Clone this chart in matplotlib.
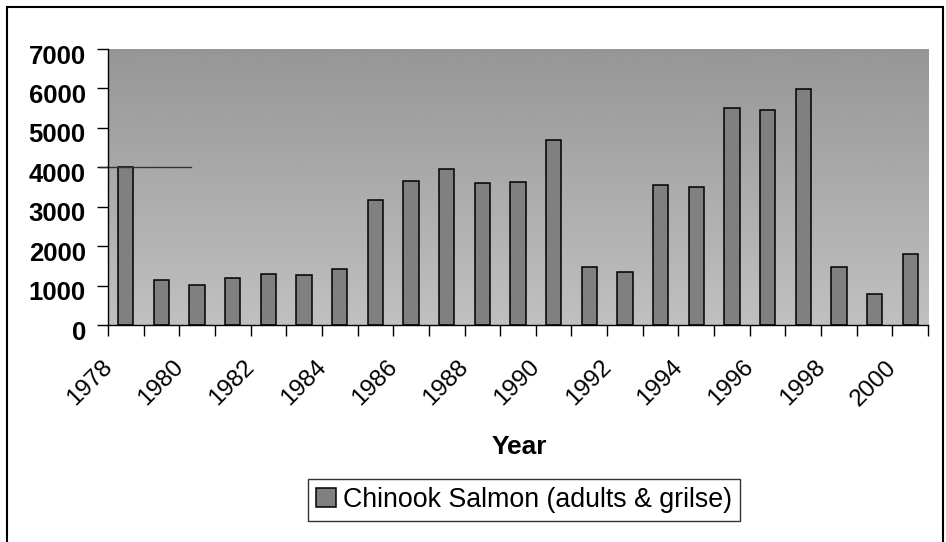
import numpy as np
import matplotlib
matplotlib.use("Agg")
import matplotlib.pyplot as plt
import matplotlib.transforms as mtransforms
from matplotlib.patches import Rectangle

plt.rcParams["font.family"] = ["Liberation Sans", "DejaVu Sans"]

years = list(range(1978, 2001))
salmon = [4000, 1140, 1015, 1180, 1300, 1270, 1430, 3180, 3660, 3950,
          3590, 3630, 4690, 1470, 1345, 3550, 3510, 5500, 5460, 5990,
          1470, 780, 1790]
series_name = "Chinook Salmon (adults & grilse)"
ref_level = 4000
ref_span = [-0.72, 1.83]

fig = plt.figure(figsize=(9.46, 5.42), dpi=100)
ax = fig.add_axes([108 / 946, 1 - 325 / 542, 820 / 946, 276 / 542])

x = np.arange(len(years))

# gradient background, darker at top
grad = np.linspace(150, 192, 256).reshape(-1, 1) / 255.0
ax.imshow(grad, cmap="gray", vmin=0, vmax=1, aspect="auto",
          extent=[-0.5, len(years) - 0.5, 0, 7000], origin="upper", zorder=0)

ax.bar(x, salmon, width=0.43, color="#808080", edgecolor="black",
       linewidth=1.1, zorder=2, label=series_name)
ax.plot(ref_span, [ref_level, ref_level], color="#333333", lw=1,
        clip_on=False, zorder=3)

ax.set_xlim(-0.5, len(years) - 0.5)
ax.set_ylim(0, 7000)

for s in ["top", "right"]:
    ax.spines[s].set_visible(False)
for s in ["left", "bottom"]:
    ax.spines[s].set_linewidth(1)
    ax.spines[s].set_zorder(4)

ax.set_yticks(range(0, 7001, 1000))
ax.tick_params(axis="y", length=8, width=1, pad=8, labelsize=18.5)
for lab in ax.get_yticklabels():
    lab.set_fontweight("bold")
    lab.set_transform(lab.get_transform() +
                      mtransforms.ScaledTranslation(0, -5 / 100, fig.dpi_scale_trans))

ax.set_xticks(np.arange(-0.5, len(years)), labels=[])
ax.set_xticks(x[::2], labels=[str(y) for y in years[::2]], minor=True)
ax.tick_params(axis="x", which="major", length=8, width=1, direction="out")
ax.tick_params(axis="x", which="minor", length=0, pad=28, labelsize=17.5)
for lab in ax.get_xticklabels(minor=True):
    lab.set_rotation(45)
    lab.set_ha("right")
    lab.set_va("center")
    lab.set_rotation_mode("anchor")
    lab.set_transform(lab.get_transform() +
                      mtransforms.ScaledTranslation(-17 / 100, 0, fig.dpi_scale_trans))

fig.text(519 / 946, 1 - 447 / 542, "Year", ha="center", va="center",
         fontsize=19, fontweight="bold")

leg = fig.legend(loc="center", bbox_to_anchor=(524 / 946, 1 - 500 / 542),
                 fontsize=19.3, frameon=True, fancybox=False,
                 handlelength=0.72, handleheight=0.72, handletextpad=0.27,
                 borderpad=0.3, borderaxespad=0)
leg.get_frame().set_edgecolor("black")
leg.get_frame().set_linewidth(1)

# outer frame (bottom edge falls outside the image)
fig.patches.append(Rectangle((7 / 946, -10 / 542), 936 / 946, 545 / 542,
                             transform=fig.transFigure, fill=False,
                             edgecolor="black", linewidth=1.5))

fig.savefig("out.png", dpi=100)
